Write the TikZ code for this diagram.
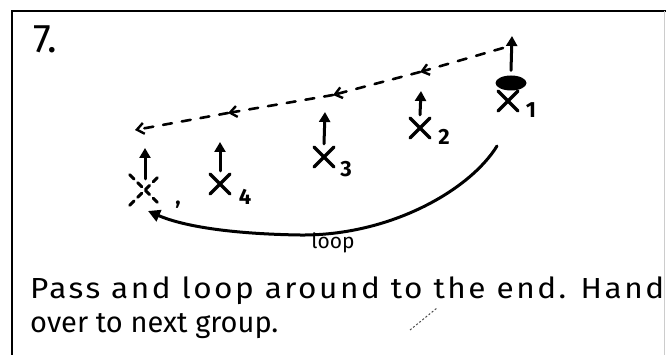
\documentclass[tikz,border=0pt]{standalone}
\usepackage{fontspec}
\setmainfont{Fira Sans}
\usetikzlibrary{arrows.meta,shapes.geometric}
\begin{document}
\begin{tikzpicture}[x=1pt,y=-1pt,
  ink/.style={line width=3pt,line cap=round},
  player/.style={inner sep=0pt,minimum size=26pt,
    path picture={\draw[ink,line width=3.2pt]
      ([shift={(3pt,3pt)}]path picture bounding box.south west) -- ([shift={(-3pt,-3pt)}]path picture bounding box.north east)
      ([shift={(3pt,-3pt)}]path picture bounding box.north west) -- ([shift={(-3pt,3pt)}]path picture bounding box.south east);}},
  ghost/.style={inner sep=0pt,minimum size=30pt},
  sub/.style={inner sep=0pt,font=\fontsize{22}{22}\selectfont\bfseries},
  run/.style={ink,-{Triangle[length=10pt,width=11pt]}},
  pass/.style={ink,line width=2.6pt,dash pattern=on 9pt off 10pt,-{Straight Barb[length=7pt,width=11pt,line width=2.4pt]}},
  txt/.style={inner sep=0pt,anchor=base west}]
\useasboundingbox (0,0) rectangle (666,355);
\fill[white] (0,0) rectangle (666,355);
% frame
\draw[line width=2.8pt] (12,355) -- (12,11) -- (666,11);
\draw[black!20,line width=1pt] (664,11) -- (664,355);
% title
\node[txt,font=\fontsize{40}{40}\selectfont] (title) at (33,53) {7.};
% players
\node[player] (x1) at (508,101) {};
\node[sub] (s1) at (531,110) {1};
\node[player] (x2) at (420,128) {};
\node[sub] (s2) at (444,137) {2};
\node[player] (x3) at (324,157) {};
\node[sub] (s3) at (346,169) {3};
\node[player] (x4) at (220,184) {};
\node[sub] (s4) at (245,197) {4};
\node[ghost] (x0) at (145,190) {};
\draw[ink,dash pattern=on 6pt off 5pt] (x0.south west) -- (x0.north east) (x0.north west) -- (x0.south east);
\node[sub] (s0) at (178,205) {,};
% ball
\node[ellipse,fill=black,minimum width=31pt,minimum height=15pt,inner sep=0pt] (ball) at (511,83) {};
% run arrows
\coordinate (r1) at (512,36);
\draw[run] (ball.north) ++(0,-5) coordinate (r1s) (r1s) -- (r1);
\coordinate (r2) at (421,91);
\draw[run] (x2.north) -- (r2);
\coordinate (r3) at (325,112);
\draw[run] (x3.north) -- (r3);
\coordinate (r4) at (220,142);
\draw[run] (x4.north) -- (r4);
\coordinate (r0) at (145,148);
\draw[run] (x0.north) ++(0,4) coordinate (r0s) (r0s) -- (r0);
% pass line
\coordinate (p0) at (503,48);
\coordinate (p1) at (420,72);
\coordinate (p2) at (333,95);
\coordinate (p3) at (228,113);
\coordinate (p4) at (135,130);
\draw[pass] (p0) -- (p1);
\draw[pass] (p1) -- (p2);
\draw[pass] (p2) -- (p3);
\draw[pass] (p3) -- (p4);
% loop
\coordinate (l0) at (497,146);
\coordinate (lm) at (300,235);
\coordinate (l1) at (148,211);
\draw[ink,-{Triangle[length=12pt,width=12pt]}] (l0) .. controls (470,190) and (390,236) .. (lm) .. controls (235,234) and (185,227) .. (l1);
\node[inner sep=0pt,font=\fontsize{21}{21}\selectfont] (loop) at (333,243) {loop};
% text
\node[txt,font=\fontsize{29}{29}\selectfont] (line1) at (30,298) {\resizebox{634pt}{\height}{\addfontfeature{LetterSpace=8}Pass and loop around to the end. Hand}};
\node[txt,font=\fontsize{29}{29}\selectfont] (line2) at (30,332) {over to next group.};
% stray mark
\coordinate (m0) at (410,330);
\coordinate (m1) at (437,308);
\draw[black!70,line width=1pt,dash pattern=on 2pt off 2pt] (m0) -- (m1);
\end{tikzpicture}
\end{document}
